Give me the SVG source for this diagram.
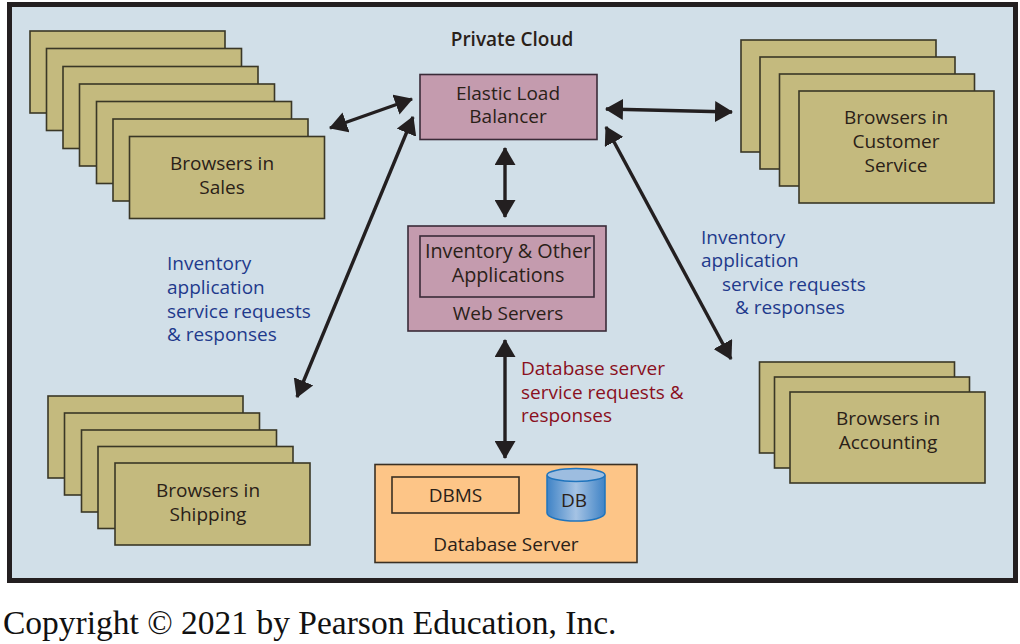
<svg xmlns="http://www.w3.org/2000/svg" width="1020" height="644" viewBox="0 0 1020 644">
<style>
text{font-family:"Open Sans","Noto Sans","Liberation Sans",sans-serif;font-size:19px;fill:#2a2118;text-anchor:middle}
.b{fill:#c4ba7e;stroke:#3a3726;stroke-width:1.6}
.p{fill:#c49bae;stroke:#3a2b38;stroke-width:1.6}
.blue{fill:#1f3a8c;text-anchor:start}
.red{fill:#8a0f20;text-anchor:start}
.w{font-size:19.8px}
.a{fill:none;stroke:#231f20;stroke-width:3.4;marker-start:url(#ah);marker-end:url(#ah)}
</style>
<defs>
<marker id="ah" viewBox="0 0 18 21" refX="17" refY="10.500" markerUnits="userSpaceOnUse" markerWidth="18" markerHeight="21" orient="auto-start-reverse"><path d="M0 0L18 10.500L0 21Z" fill="#231f20"/></marker>
<linearGradient id="cyl" x1="0" x2="1" y1="0" y2="0"><stop offset="0" stop-color="#3f83c6"/><stop offset=".5" stop-color="#a5c3e4"/><stop offset="1" stop-color="#3f83c6"/></linearGradient>
</defs>
<rect width="1020" height="644" fill="#fff"/>
<rect id="cloud" x="9.500" y="4.500" width="1006" height="576" fill="#d1dfe8" stroke="#231f20" stroke-width="5"/>
<text id="title" x="512" y="46" style="font-weight:600;font-size:19px">Private Cloud</text>
<g id="sales">
<rect class="b" x="30" y="31" width="195" height="82"/><rect class="b" x="46.500" y="48.500" width="195" height="82"/><rect class="b" x="63" y="66.500" width="195" height="82"/><rect class="b" x="79.500" y="84" width="195" height="82"/><rect class="b" x="96.500" y="101.500" width="195" height="82"/><rect class="b" x="113" y="119" width="195" height="82"/><rect class="b" x="129.500" y="136.500" width="195" height="82"/>
<text x="222" y="170">Browsers in</text><text x="222" y="194">Sales</text>
</g>
<g id="customer">
<rect class="b" x="741" y="40" width="195" height="112"/><rect class="b" x="760" y="57" width="195" height="112"/><rect class="b" x="779.500" y="74" width="195" height="112"/><rect class="b" x="799" y="91" width="195" height="112"/>
<text x="896" y="124">Browsers in</text><text x="896" y="148">Customer</text><text x="896" y="172">Service</text>
</g>
<g id="accounting">
<rect class="b" x="759.500" y="362" width="195" height="91"/><rect class="b" x="774.500" y="377" width="195" height="91"/><rect class="b" x="790" y="392" width="195" height="91"/>
<text x="888" y="425">Browsers in</text><text x="888" y="449">Accounting</text>
</g>
<g id="shipping">
<rect class="b" x="48" y="396" width="195" height="82"/><rect class="b" x="64.500" y="413" width="195" height="82"/><rect class="b" x="81.500" y="430" width="195" height="82"/><rect class="b" x="98" y="446.500" width="195" height="82"/><rect class="b" x="115" y="463" width="195" height="82"/>
<text x="208" y="497">Browsers in</text><text x="208" y="521">Shipping</text>
</g>
<g id="elb">
<rect class="p" x="420" y="74.500" width="177" height="65"/>
<text x="508" y="100">Elastic Load</text><text x="508" y="123">Balancer</text>
</g>
<g id="web">
<rect class="p" x="408" y="226" width="198" height="105"/>
<rect x="420" y="236" width="174" height="61" fill="none" stroke="#3a2b38" stroke-width="1.600"/>
<text class="w" x="508" y="258">Inventory &amp; Other</text><text class="w" x="508" y="282">Applications</text><text x="508" y="320">Web Servers</text>
</g>
<g id="dbserver">
<rect x="375" y="464.500" width="262" height="98" fill="#fdc587" stroke="#3a3024" stroke-width="1.600"/>
<rect x="392" y="477" width="127" height="36" fill="none" stroke="#3a3024" stroke-width="1.600"/>
<text x="455.500" y="502">DBMS</text>
<path d="M547 476V513A29 8 0 0 0 605 513V476Z" fill="url(#cyl)" stroke="#1f74bd" stroke-width="1.500"/>
<ellipse cx="576" cy="475" rx="29" ry="6.500" fill="#9dbde0" stroke="#1f74bd" stroke-width="1.500"/>
<text x="574" y="507">DB</text>
<text x="506" y="551">Database Server</text>
</g>
<g id="connectors">
<path class="a" d="M330 128L412 99"/>
<path class="a" d="M297 397L413 117"/>
<path class="a" d="M505 148V217"/>
<path class="a" d="M606 109L732 112"/>
<path class="a" d="M606 127L731 359"/>
<path class="a" d="M505 340V458"/>
</g>
<g id="labels">
<text class="blue" x="167" y="270">Inventory</text><text class="blue" x="167" y="294">application</text><text class="blue" x="167" y="318">service requests</text><text class="blue" x="167" y="341">&amp; responses</text>
<text class="blue" x="701" y="244">Inventory</text><text class="blue" x="701" y="267">application</text><text class="blue" x="722" y="291">service requests</text><text class="blue" x="735" y="314">&amp; responses</text>
<text class="red" x="521" y="375">Database server</text><text class="red" x="521" y="399">service requests &amp;</text><text class="red" x="521" y="422">responses</text>
</g>
<text id="copyright" x="3" y="634" style="font-family:'Liberation Serif',serif;font-size:33.500px;fill:#111;text-anchor:start">Copyright © 2021 by Pearson Education, Inc.</text>
</svg>
